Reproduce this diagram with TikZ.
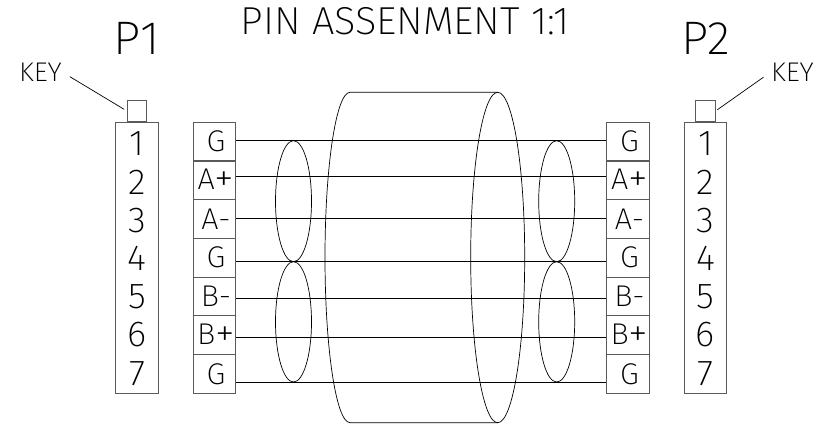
\documentclass[tikz,border=0pt]{standalone}
\usepackage{fontspec}
\newfontfamily\cadfont[FakeStretch=1.02]{Fira Sans ExtraLight}
\usetikzlibrary{positioning}
\definecolor{boxgray}{RGB}{90,90,90}
\newcommand\cadplus{\raisebox{-2pt}{\scalebox{1.3}{+}}}
\begin{document}
\begin{tikzpicture}[x=1pt,y=-1pt,line width=0.7pt,
	every node/.style={font=\cadfont},
	conn/.style={rectangle,draw=boxgray,line width=1.1pt,minimum width=42.3pt,minimum height=271pt,inner sep=0pt},
	keybox/.style={rectangle,draw=boxgray,line width=1.1pt,minimum width=19.3pt,minimum height=20.6pt,inner sep=0pt},
	cell/.style={rectangle,draw=boxgray,line width=1.1pt,minimum width=42.3pt,minimum height=38.7pt,inner sep=0pt},
	pin/.style={font=\cadfont\fontsize{36}{36}\selectfont,inner sep=0pt},
	sig/.style={font=\cadfont\fontsize{30}{30}\selectfont,inner sep=0pt}]
	\useasboundingbox (0,0) rectangle (832,430);
	% title and plug names
	\node[font=\cadfont\fontsize{39}{39}\selectfont] (title) at (405,21.5) {PIN ASSENMENT 1:1};
	\node[font=\cadfont\fontsize{47}{47}\selectfont] (name1) at (137,38) {P1};
	\node[font=\cadfont\fontsize{47}{47}\selectfont] (name2) at (706,38) {P2};
	% plugs
	\node[conn] (p1) at (136.9,257.8) {};
	\node[conn] (p2) at (705.5,257.8) {};
	\node[keybox,above=0pt of p1] (key1) {};
	\node[keybox,above=0pt of p2] (key2) {};
	\node[font=\cadfont\fontsize{27}{27}\selectfont,inner sep=0pt] (keyl) at (40.5,72) {KEY};
	\node[font=\cadfont\fontsize{27}{27}\selectfont,inner sep=0pt] (keyr) at (792.5,72) {KEY};
	\draw[shorten <=9pt,shorten >=3pt] (keyl.east) -- (key1.west);
	\draw[shorten <=9pt,shorten >=2pt] (keyr.west) -- (key2.east);
	% pins, cells and wires
	\foreach \lab/\y [count=\i] in {G/140.7,A\cadplus/176.7,A-/218.3,G/261.7,B-/298.7,B\cadplus/337.3,G/382}{
		\node[pin] (n1\i) at (137,144+38.2*\i-38.2) {\i};
		\node[pin] (n2\i) at (705.5,144+38.2*\i-38.2) {\i};
		\node[cell] (la\i) at (214.5,141.65+38.7*\i-38.7) {};
		\node[cell] (ra\i) at (628,141.65+38.7*\i-38.7) {};
		\node[sig] at ([xshift=1.5pt]la\i.center) {\lab};
		\node[sig] at ([xshift=1.5pt]ra\i.center) {\lab};
		\coordinate (w\i) at (0,\y);
		\draw (la\i.east |- w\i) -- (ra\i.west |- w\i);
	}
	% twisted pairs
	\foreach \cx in {293.5,556.7}{
		\draw (\cx,201.2) ellipse [x radius=18pt,y radius=60.5pt];
		\draw (\cx,321.85) ellipse [x radius=18pt,y radius=60.15pt];
	}
	% cable jacket
	\draw (497.7,92.3) -- (350,92.3) arc[start angle=90,end angle=270,x radius=25pt,y radius=165.2pt] -- (497.7,422.7);
	\draw (497.7,257.5) ellipse [x radius=27pt,y radius=165.2pt];
\end{tikzpicture}
\end{document}
